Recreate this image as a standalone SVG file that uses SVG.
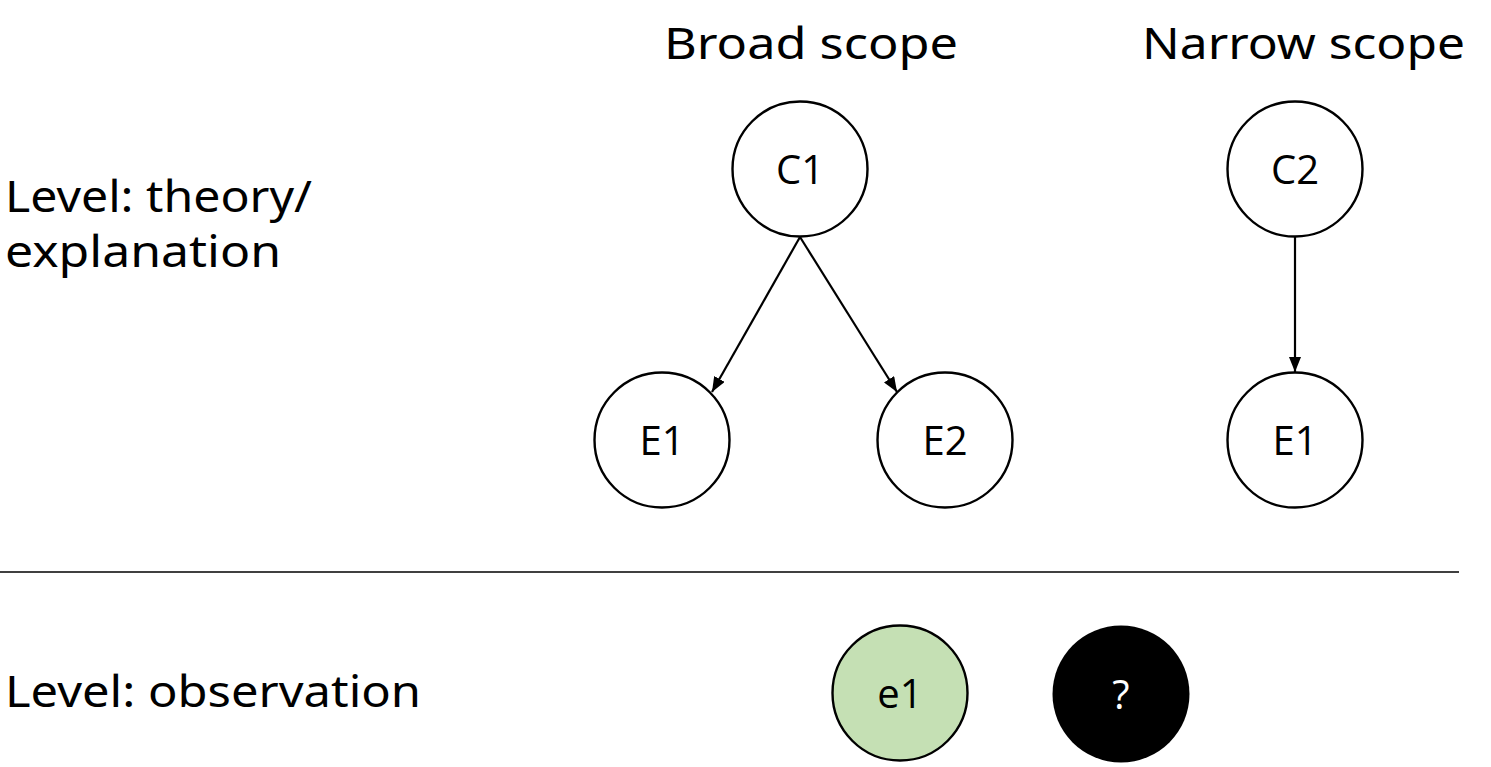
<svg xmlns="http://www.w3.org/2000/svg" width="1491" height="767" viewBox="0 0 1491 767">
<style>
.lbl{font-family:"Noto Sans","Open Sans",sans-serif;font-size:43px;fill:#000}
.nd{fill:#fff;stroke:#000;stroke-width:2.4}
.nt{font-family:"Open Sans","Liberation Sans",sans-serif;font-size:40px;text-anchor:middle;fill:#000}
.cn{stroke:#000;stroke-width:2.2;fill:none}
</style>
<defs>
<marker id="ah" viewBox="0 0 15 12" refX="15" refY="6" markerWidth="15" markerHeight="12" markerUnits="userSpaceOnUse" orient="auto">
<path d="M0,0 L15,6 L0,12 Z" fill="#000"/>
</marker>
</defs>
<rect width="1491" height="767" fill="#fff"/>
<g id="labels">
<text class="lbl" x="664" y="59" textLength="294" lengthAdjust="spacingAndGlyphs">Broad scope</text>
<text class="lbl" x="1142" y="59" textLength="323" lengthAdjust="spacingAndGlyphs">Narrow scope</text>
<text class="lbl" x="5" y="212" textLength="307" lengthAdjust="spacingAndGlyphs">Level: theory/</text>
<text class="lbl" x="5" y="267" textLength="276" lengthAdjust="spacingAndGlyphs">explanation</text>
<text class="lbl" x="5" y="707" textLength="416" lengthAdjust="spacingAndGlyphs">Level: observation</text>
</g>
<line x1="0" y1="572" x2="1459" y2="572" stroke="#000" stroke-width="1.3"/>
<g id="connectors">
<line class="cn" x1="800" y1="237" x2="712" y2="392" marker-end="url(#ah)"/>
<line class="cn" x1="800" y1="237" x2="897" y2="392" marker-end="url(#ah)"/>
<line class="cn" x1="1295" y1="237" x2="1295" y2="372" marker-end="url(#ah)"/>
</g>
<g id="C1"><circle class="nd" cx="800" cy="169" r="67.5"/><text class="nt" x="800" y="184">C1</text></g>
<g id="E1a"><circle class="nd" cx="662" cy="440" r="67.5"/><text class="nt" x="662" y="455">E1</text></g>
<g id="E2"><circle class="nd" cx="945" cy="440" r="67.5"/><text class="nt" x="945" y="455">E2</text></g>
<g id="C2"><circle class="nd" cx="1295" cy="169" r="67.5"/><text class="nt" x="1295" y="184">C2</text></g>
<g id="E1b"><circle class="nd" cx="1295" cy="440" r="67.5"/><text class="nt" x="1295" y="455">E1</text></g>
<g id="e1"><circle class="nd" cx="900" cy="693" r="67.5" style="fill:#C5E0B4"/><text class="nt" x="900" y="708">e1</text></g>
<g id="q"><circle cx="1121" cy="694" r="68.5" fill="#000"/><text class="nt" x="1121" y="709" style="fill:#fff">?</text></g>
</svg>
